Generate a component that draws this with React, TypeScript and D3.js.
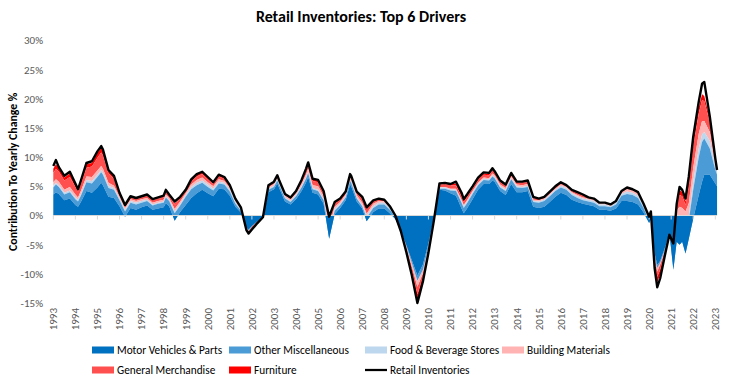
import React from "react";
import * as d3 from "d3";

// ---------- DATA (% contribution to yearly change) ----------
const dates = [
  1993.0, 1993.12, 1993.25, 1993.5, 1993.75, 1994.0, 1994.12, 1994.25, 1994.5, 1994.75,
  1995.0, 1995.17, 1995.25, 1995.5, 1995.75, 1996.0, 1996.25, 1996.5, 1996.75, 1997.0,
  1997.25, 1997.5, 1997.75, 1998.0, 1998.1, 1998.25, 1998.5, 1998.75, 1999.0, 1999.25,
  1999.5, 1999.75, 2000.0, 2000.25, 2000.5, 2000.75, 2001.0, 2001.25, 2001.5, 2001.75,
  2001.85, 2002.0, 2002.25, 2002.5, 2002.75, 2003.0, 2003.15, 2003.25, 2003.5, 2003.75,
  2004.0, 2004.25, 2004.45, 2004.55, 2004.75, 2005.0, 2005.25, 2005.5, 2005.75, 2006.0,
  2006.25, 2006.45, 2006.5, 2006.75, 2007.0, 2007.2, 2007.5, 2007.75, 2008.0, 2008.25,
  2008.5, 2008.75, 2009.0, 2009.25, 2009.5, 2009.75, 2010.0, 2010.25, 2010.5, 2010.75,
  2011.0, 2011.25, 2011.5, 2011.6, 2011.75, 2012.0, 2012.25, 2012.5, 2012.75, 2012.9,
  2013.0, 2013.25, 2013.5, 2013.75, 2014.0, 2014.25, 2014.5, 2014.75, 2015.0, 2015.25,
  2015.5, 2015.75, 2016.0, 2016.25, 2016.5, 2016.75, 2017.0, 2017.25, 2017.5, 2017.75,
  2018.0, 2018.25, 2018.5, 2018.75, 2019.0, 2019.25, 2019.5, 2019.75, 2020.0, 2020.08,
  2020.25, 2020.37, 2020.5, 2020.75, 2020.92, 2021.1, 2021.25, 2021.38, 2021.5, 2021.65,
  2021.8, 2022.0, 2022.25, 2022.4, 2022.5, 2022.75, 2023.0, 2023.08,
];

const motorVehicles = [
  3.6, 4.0, 3.7, 2.6, 2.9, 1.8, 1.5, 2.3, 4.2, 3.9,
  4.8, 5.6, 5.2, 3.2, 3.0, 1.6, -0.2, 1.3, 1.0, 1.4,
  1.7, 1.0, 1.2, 1.4, 2.1, 1.6, -0.9, 0.6, 1.8, 3.0,
  3.8, 4.4, 3.8, 3.3, 4.6, 4.5, 3.4, 1.5, 0.5, -2.1,
  -2.4, -1.8, -1.0, -0.3, 4.0, 4.5, 5.5, 4.6, 2.4, 1.9,
  2.8, 4.2, 5.6, 6.6, 3.9, 3.6, 2.0, -4.0, 0.2, 1.3,
  2.6, 5.3, 5.0, 2.4, 1.2, -1.0, 0.6, 1.2, 1.2, 0.4,
  -0.6, -2.6, -5.1, -7.7, -10.3, -8.4, -4.8, -0.4, 4.4, 4.3,
  3.8, 3.4, 1.2, 0.4, 1.2, 2.8, 4.4, 5.4, 5.4, 6.0,
  5.8, 4.2, 3.5, 5.4, 4.0, 4.0, 4.2, 1.5, 1.3, 1.5,
  2.3, 3.2, 3.9, 3.5, 2.7, 2.3, 2.0, 1.8, 1.6, 1.0,
  1.0, 0.8, 1.2, 2.5, 2.5, 2.3, 1.9, 0.5, -1.3, -0.6,
  -6.5, -8.5, -7.8, -5.2, -3.0, -9.3, -4.5, -5.0, -4.5, -6.5,
  -4.0, -0.5, 3.5, 5.8, 7.0, 7.0, 5.5, 5.0,
];

const otherMisc = [
  1.2, 1.3, 1.2, 1.0, 1.1, 1.0, 0.9, 1.1, 1.5, 1.6,
  1.8, 1.8, 1.8, 1.5, 1.4, 1.0, 0.9, 0.9, 0.9, 0.8,
  0.8, 0.7, 0.8, 0.8, 1.0, 0.9, 1.3, 1.1, 1.4, 1.5,
  1.4, 1.2, 1.1, 1.0, 0.9, 0.8, 0.7, 0.5, 0.3, -0.1,
  -0.2, -0.1, 0.0, 0.1, 0.4, 0.4, 0.5, 0.5, 0.5, 0.4,
  0.5, 0.6, 0.7, 0.7, 0.6, 0.6, 0.6, 1.0, 0.6, 0.5,
  0.5, 0.6, 0.6, 0.5, 0.4, 0.6, 0.7, 0.7, 0.7, 0.6,
  0.4, 0.2, -0.1, -0.5, -0.9, -0.9, -0.6, -0.2, 0.2, 0.3,
  0.5, 0.8, 1.0, 0.9, 0.9, 0.9, 0.8, 0.7, 0.6, 0.7,
  0.6, 0.6, 0.7, 0.8, 0.8, 0.7, 0.7, 0.8, 0.9, 1.0,
  1.0, 1.0, 0.9, 0.9, 0.8, 0.7, 0.6, 0.6, 0.6, 0.6,
  0.6, 0.6, 0.7, 0.9, 1.2, 1.2, 1.1, 0.8, 0.4, 0.4,
  -0.5, -0.5, -0.3, -0.3, -0.2, 2.0, 3.0, 3.5, 3.2, 4.5,
  3.2, 4.9, 6.5, 6.8, 6.2, 4.5, 2.3, 2.0,
];

const foodBeverage = [
  0.3, 0.3, 0.3, 0.3, 0.3, 0.3, 0.3, 0.3, 0.4, 0.4,
  0.4, 0.4, 0.4, 0.4, 0.3, 0.3, 0.3, 0.3, 0.3, 0.3,
  0.2, 0.2, 0.2, 0.2, 0.2, 0.2, 0.3, 0.3, 0.3, 0.4,
  0.4, 0.4, 0.4, 0.3, 0.3, 0.3, 0.3, 0.3, 0.2, 0.0,
  0.0, 0.0, 0.0, 0.1, 0.2, 0.2, 0.2, 0.2, 0.2, 0.2,
  0.2, 0.2, 0.2, 0.2, 0.2, 0.2, 0.2, 0.3, 0.3, 0.2,
  0.2, 0.2, 0.2, 0.2, 0.2, 0.3, 0.3, 0.3, 0.3, 0.3,
  0.3, 0.2, 0.1, 0.0, -0.1, 0.0, 0.1, 0.1, 0.2, 0.2,
  0.2, 0.2, 0.3, 0.3, 0.3, 0.3, 0.2, 0.2, 0.2, 0.2,
  0.2, 0.2, 0.2, 0.2, 0.2, 0.2, 0.2, 0.2, 0.2, 0.2,
  0.2, 0.2, 0.3, 0.3, 0.3, 0.3, 0.3, 0.3, 0.3, 0.3,
  0.3, 0.2, 0.3, 0.3, 0.4, 0.4, 0.4, 0.3, 0.3, 0.3,
  0.1, 0.0, 0.1, 0.0, 0.0, 0.5, 0.8, 0.8, 0.8, 1.2,
  0.8, 1.4, 1.5, 1.3, 1.1, 1.3, 0.6, 0.6,
];

const buildingMaterials = [
  0.6, 0.6, 0.6, 0.5, 0.6, 0.5, 0.4, 0.5, 0.6, 0.7,
  0.7, 0.7, 0.6, 0.5, 0.4, 0.3, 0.3, 0.3, 0.3, 0.3,
  0.3, 0.3, 0.3, 0.3, 0.3, 0.3, 0.4, 0.4, 0.3, 0.4,
  0.5, 0.5, 0.4, 0.4, 0.4, 0.3, 0.3, 0.2, 0.2, 0.0,
  -0.1, 0.0, 0.0, 0.1, 0.2, 0.3, 0.3, 0.3, 0.3, 0.3,
  0.3, 0.4, 0.5, 0.5, 0.5, 0.6, 0.5, 0.7, 0.4, 0.3,
  0.3, 0.4, 0.4, 0.4, 0.4, 0.4, 0.4, 0.3, 0.2, 0.1,
  0.0, -0.2, -0.4, -0.6, -0.9, -0.6, -0.4, -0.2, 0.1, 0.1,
  0.1, 0.2, 0.2, 0.2, 0.2, 0.2, 0.2, 0.2, 0.2, 0.3,
  0.3, 0.3, 0.3, 0.3, 0.3, 0.3, 0.3, 0.2, 0.2, 0.2,
  0.2, 0.2, 0.2, 0.2, 0.2, 0.2, 0.2, 0.2, 0.2, 0.2,
  0.2, 0.2, 0.2, 0.3, 0.4, 0.4, 0.4, 0.3, 0.2, 0.2,
  -0.3, -0.6, -0.4, -0.2, 0.0, 0.8, 1.5, 2.2, 1.8, 1.5,
  2.1, 2.4, 2.5, 2.3, 1.9, 1.5, 0.4, 0.3,
];

const generalMerch = [
  1.6, 1.8, 1.7, 1.6, 1.7, 1.3, 1.0, 1.2, 1.5, 1.8,
  2.2, 2.3, 2.3, 1.6, 1.2, 0.5, 0.4, 0.3, 0.3, 0.3,
  0.4, 0.4, 0.4, 0.4, 0.5, 0.4, 0.7, 0.6, 0.4, 0.6,
  0.6, 0.6, 0.5, 0.4, 0.5, 0.4, 0.3, 0.2, 0.1, -0.2,
  -0.2, -0.3, -0.2, -0.2, 0.2, 0.2, 0.2, 0.2, 0.2, 0.2,
  0.3, 0.5, 0.6, 0.7, 0.7, 0.7, 0.5, 0.8, 0.5, 0.4,
  0.3, 0.3, 0.3, 0.4, 0.6, 0.8, 0.4, 0.2, 0.2, 0.1,
  -0.1, -0.2, -0.4, -0.7, -1.3, -0.7, -0.4, -0.1, 0.4, 0.5,
  0.6, 0.6, 0.6, 0.5, 0.6, 0.5, 0.5, 0.5, 0.5, 0.5,
  0.5, 0.4, 0.4, 0.4, 0.3, 0.4, 0.4, 0.3, 0.2, 0.2,
  0.2, 0.2, 0.2, 0.1, 0.2, 0.3, 0.3, 0.2, 0.2, 0.1,
  0.1, 0.1, 0.1, 0.1, 0.1, 0.1, 0.1, 0.0, 0.0, 0.3,
  -0.8, -0.9, -0.9, -0.4, -0.1, 0.8, 1.2, 2.0, 2.0, 1.1,
  2.9, 3.8, 3.5, 3.6, 3.4, 1.7, 0.5, 0.3,
];

const furniture = [
  0.7, 0.8, 0.7, 0.5, 0.6, 0.4, 0.3, 0.4, 0.6, 0.6,
  0.8, 0.8, 0.7, 0.4, 0.3, 0.1, 0.1, 0.1, 0.1, 0.1,
  0.1, 0.1, 0.1, 0.1, 0.2, 0.1, 0.2, 0.1, 0.1, 0.2,
  0.3, 0.3, 0.3, 0.2, 0.2, 0.2, 0.1, 0.1, 0.0, -0.1,
  -0.2, -0.2, -0.1, -0.1, 0.1, 0.1, 0.1, 0.1, 0.1, 0.1,
  0.1, 0.2, 0.3, 0.3, 0.3, 0.3, 0.3, 0.4, 0.2, 0.1,
  0.1, 0.1, 0.1, 0.1, 0.3, 0.3, 0.1, 0.1, 0.1, 0.0,
  -0.1, -0.1, -0.3, -0.6, -1.0, -0.6, -0.3, -0.1, 0.2, 0.2,
  0.2, 0.3, 0.4, 0.4, 0.3, 0.2, 0.2, 0.2, 0.2, 0.2,
  0.2, 0.2, 0.1, 0.1, 0.1, 0.1, 0.1, 0.1, 0.0, 0.0,
  0.1, 0.1, 0.1, 0.1, 0.1, 0.1, 0.1, 0.0, 0.0, 0.0,
  0.0, 0.0, 0.0, 0.0, 0.0, 0.0, 0.0, 0.0, 0.0, 0.2,
  -0.7, -1.0, -0.8, -0.2, 0.2, 0.4, 0.5, 0.9, 0.7, 0.6,
  0.8, 1.2, 1.0, 1.0, 0.9, 0.6, 0.2, 0.1,
];

const retailInventories = [
  8.5, 9.5, 8.3, 6.8, 7.5, 5.5, 4.5, 6.0, 9.0, 9.3,
  11.0, 11.9, 11.3, 7.8, 6.8, 3.9, 1.8, 3.3, 3.0, 3.3,
  3.6, 2.8, 3.1, 3.4, 4.4, 3.6, 2.4, 3.2, 4.4, 6.2,
  7.1, 7.5, 6.6, 5.7, 7.0, 6.6, 5.2, 2.9, 1.4, -2.5,
  -3.1, -2.4, -1.3, -0.3, 5.2, 5.8, 6.9, 5.9, 3.7, 3.1,
  4.2, 6.1, 8.0, 9.1, 6.3, 6.1, 4.2, -0.2, 2.3, 2.9,
  4.1, 7.1, 6.8, 4.1, 3.2, 1.4, 2.6, 2.9, 2.7, 1.6,
  0.0, -2.7, -6.3, -10.3, -15.0, -11.3, -6.4, -0.8, 5.5, 5.6,
  5.4, 5.8, 3.9, 2.8, 3.6, 5.0, 6.5, 7.4, 7.3, 8.1,
  7.6, 6.0, 5.3, 7.3, 5.8, 5.8, 6.0, 3.2, 2.9, 3.2,
  4.1, 5.0, 5.7, 5.2, 4.4, 4.0, 3.6, 3.1, 2.9, 2.2,
  2.2, 1.9, 2.5, 4.2, 4.8, 4.5, 4.0, 2.0, -0.2, 0.7,
  -9.0, -12.3, -10.8, -6.2, -3.3, -4.8, 2.0, 4.9, 4.4, 2.9,
  6.7, 13.5, 19.5, 22.6, 22.9, 17.0, 9.8, 7.8,
];

const seriesNames = [
  "Motor Vehicles & Parts",
  "Other Miscellaneous",
  "Food & Beverage Stores",
  "Building Materials",
  "General Merchandise",
  "Furniture",
];
const seriesColors = ["#0070C0", "#4A9BD6", "#BDD7EE", "#FFB3B3", "#FF5050", "#FF0000"];
const lineName = "Retail Inventories";
const yTicks = [30, 25, 20, 15, 10, 5, 0, -5, -10, -15];
const yearTicks = d3.range(1993, 2024);

const W = 745;
const H = 388;
const FONT = "Calibri, Carlito, 'Liberation Sans', Arial, sans-serif";

export default function App() {
  const x = d3.scaleLinear().domain([1993, 2023]).range([53.3, 715.3]);
  const y = d3.scaleLinear().domain([-15, 30]).range([303, 40.5]);

  const cols = [motorVehicles, otherMisc, foodBeverage, buildingMaterials, generalMerch, furniture];
  const rows = dates.map((d, i) => {
    const r: any = { date: d };
    seriesNames.forEach((n, k) => (r[n] = cols[k][i]));
    return r;
  });
  const stacked = d3.stack<any>().keys(seriesNames).offset(d3.stackOffsetNone)(rows);

  const area = d3
    .area<any>()
    .x((d) => x(d.data.date))
    .y0((d) => y(d[0]))
    .y1((d) => y(d[1]));

  const line = d3
    .line<number>()
    .x((_, i) => x(dates[i]))
    .y((v) => y(v));

  const legendItems = [
    { name: seriesNames[0], color: seriesColors[0], type: "rect", col: 0, row: 0 },
    { name: seriesNames[1], color: seriesColors[1], type: "rect", col: 1, row: 0 },
    { name: seriesNames[2], color: seriesColors[2], type: "rect", col: 2, row: 0 },
    { name: seriesNames[3], color: seriesColors[3], type: "rect", col: 3, row: 0 },
    { name: seriesNames[4], color: seriesColors[4], type: "rect", col: 0, row: 1 },
    { name: seriesNames[5], color: seriesColors[5], type: "rect", col: 1, row: 1 },
    { name: lineName, color: "#000", type: "line", col: 2, row: 1 },
  ];
  const legendX = [92, 229, 365, 502];
  const legendY = [350, 370];

  const zeroY = y(0);

  return (
    <svg
      width={W}
      height={H}
      style={{ position: "absolute", left: 0, top: 0, background: "#fff" }}
      fontFamily={FONT}
    >
      <rect width={W} height={H} fill="#fff" />
      <text x={361} y={22} textAnchor="middle" fontSize={16} fontWeight="bold" fill="#000">
        Retail Inventories: Top 6 Drivers
      </text>

      {/* y tick labels */}
      {yTicks.map((t) => (
        <text key={t} x={43} y={y(t)} dy="0.35em" textAnchor="end" fontSize={11} fill="#595959">
          {t}%
        </text>
      ))}
      <text
        transform={`translate(13,${(y(30) + y(-15)) / 2}) rotate(-90)`}
        textAnchor="middle"
        dy="0.35em"
        fontSize={11.8}
        fontWeight="bold"
        fill="#000"
      >
        Contribution To Yearly Change %
      </text>

      {/* stacked areas, first series drawn last (on top) */}
      {stacked
        .slice()
        .reverse()
        .map((s) => (
          <path key={s.key} d={area(s) || ""} fill={seriesColors[seriesNames.indexOf(s.key)]} />
        ))}

      {/* zero axis */}
      <line x1={53.3} x2={717} y1={zeroY} y2={zeroY} stroke="#D9D9D9" strokeWidth={1} />
      {yearTicks.map((yr) => (
        <line key={yr} x1={x(yr)} x2={x(yr)} y1={zeroY} y2={zeroY + 4} stroke="#D9D9D9" strokeWidth={1} />
      ))}

      {/* total line */}
      <path
        d={line(retailInventories) || ""}
        fill="none"
        stroke="#000"
        strokeWidth={2.4}
        strokeLinejoin="round"
      />

      {/* year labels */}
      {yearTicks.map((yr) => (
        <text
          key={yr}
          transform={`translate(${x(yr)},308) rotate(-90)`}
          dy="0.35em"
          textAnchor="end"
          fontSize={11}
          fill="#595959"
        >
          {yr}
        </text>
      ))}

      {/* legend */}
      {legendItems.map((it) => {
        const lx = legendX[it.col];
        const ly = legendY[it.row];
        return (
          <g key={it.name}>
            {it.type === "rect" ? (
              <rect x={lx} y={ly - 3.5} width={22} height={7} fill={it.color} />
            ) : (
              <line x1={lx} x2={lx + 22} y1={ly} y2={ly} stroke="#000" strokeWidth={2.25} />
            )}
            <text x={lx + 25} y={ly} dy="0.35em" fontSize={11.3} fill="#000">
              {it.name}
            </text>
          </g>
        );
      })}
    </svg>
  );
}
